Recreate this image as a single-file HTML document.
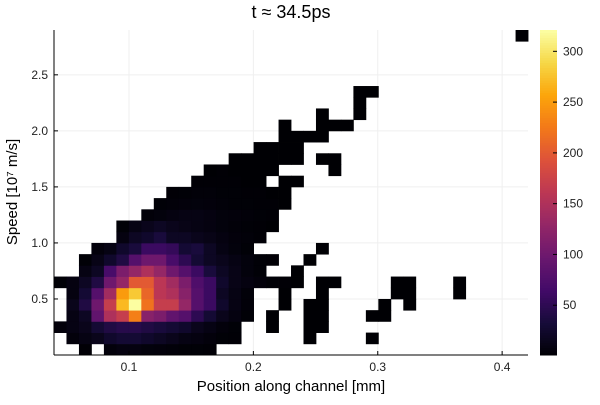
<!DOCTYPE html>
<html><head><meta charset="utf-8"><style>
body{margin:0;background:#fff;font-family:"Liberation Sans",sans-serif}
svg text{font-family:"Liberation Sans","DejaVu Sans",sans-serif}
</style></head><body>
<svg id="chart" width="600" height="400" viewBox="0 0 600 400" xmlns="http://www.w3.org/2000/svg">
<rect width="600" height="400" fill="#fff"/>
<text x="291" y="18" text-anchor="middle" font-size="18" fill="#000">t ≈ 34.5ps</text>
<text x="291" y="391" text-anchor="middle" font-size="15" fill="#000">Position along channel [mm]</text>
<text transform="translate(17,192) rotate(-90)" text-anchor="middle" font-size="15" fill="#000">Speed [10⁷ m/s]</text>
<g id="grid"></g><g id="cells"></g><g id="axes"></g><g id="cbar"></g>
</svg>
<script>
const xTicks=[0.1,0.2,0.3,0.4];
const yTicks=[0.5,1.0,1.5,2.0,2.5];
const cbTicks=[50,100,150,200,250,300];
const xBinStart=0.0397, xBinW=0.01003, nCols=38;
const yBinStart=0.0, yBinH=0.1, nRows=29;
const rowStart=[2,1,0,1,1,1,0,2,2,3,5,5,7,8,9,11,12,14,16,18,18,21,24,24,0,0,0,0,37];
const rowValues=[
[2,0,5,8,8,6,5,4,3,3,2],
[5,10,15,25,30,30,25,20,15,10,8,5,3,2,0,0,0,0,0,1,0,0,0,0,1],
[5,10,15,30,40,45,45,40,35,30,25,15,10,5,3,0,0,1,0,0,1,1],
[10,20,90,150,170,230,120,110,90,80,50,30,15,8,3,0,1,0,0,1,1,0,0,0,1,1],
[15,40,100,170,270,320,220,170,170,130,80,60,25,10,4,0,0,1,0,1,1,0,0,0,0,1,0,1],
[8,30,80,140,250,280,210,160,150,120,80,60,20,10,4,0,0,1,0,0,1,0,0,0,0,0,1,1,0,0,0,1],
[3,8,20,40,100,130,200,200,160,140,110,75,60,25,12,8,5,3,2,1,0,1,1,0,0,0,0,1,1,0,0,0,1],
[10,20,70,110,130,150,130,100,80,60,35,20,12,6,3,0,0,1],
[3,12,25,40,80,100,100,70,50,30,20,15,10,6,3,2,0,0,1],
[5,10,25,35,60,60,55,30,35,20,10,6,3,0,0,0,0,0,1],
[8,20,25,35,20,20,15,12,8,5,4,2],
[3,10,15,20,15,12,10,8,6,4,3,2,1],
[4,6,8,10,10,8,6,5,4,3,2],
[3,4,5,6,5,4,3,3,2,2,1],
[2,3,4,4,3,3,2,2,1,1],
[2,2,2,2,1,1,0,1,1],
[1,2,1,1,1,1,0,0,0,0,1],
[1,1,1,1,1,1,0,1,1],
[1,1,1,1],
[1,1,1,1],
[1,0,0,1,1,1],
[1,0,0,1],
[1],
[1,1],
[],[],[],[],
[1]
];
const vMin=1, vMax=321;
const X0=54,X1=528,Y0=355,Y1=30;
const xMin=0.0397,xMax=0.4208,yMin=0,yMax=2.9;
function sx(v){return X0+(v-xMin)/(xMax-xMin)*(X1-X0);}
function sy(v){return Y0-(v-yMin)/(yMax-yMin)*(Y0-Y1);}
const stops=[[0,0,0,4],[.1,22,11,57],[.2,66,10,104],[.3,106,23,110],[.4,147,38,103],[.5,188,55,84],[.6,221,81,58],[.7,243,120,25],[.8,252,165,10],[.9,246,215,70],[1,252,255,164]];
function cmap(t){t=Math.max(0,Math.min(1,t));for(let i=1;i<stops.length;i++){if(t<=stops[i][0]){const a=stops[i-1],b=stops[i],f=(t-a[0])/(b[0]-a[0]);return `rgb(${Math.round(a[1]+f*(b[1]-a[1]))},${Math.round(a[2]+f*(b[2]-a[2]))},${Math.round(a[3]+f*(b[3]-a[3]))})`;}}return 'rgb(252,255,164)';}
const NS='http://www.w3.org/2000/svg';
function mk(tag,attrs,parent){const e=document.createElementNS(NS,tag);for(const k in attrs)e.setAttribute(k,attrs[k]);parent.appendChild(e);return e;}
const grid=document.getElementById('grid'),cells=document.getElementById('cells'),axes=document.getElementById('axes'),cbar=document.getElementById('cbar');
xTicks.forEach(v=>{const l=mk('line',{x1:sx(v),x2:sx(v),y1:Y1,y2:Y0,stroke:'#efefef','stroke-width':1},grid);

});
yTicks.forEach(v=>{const l=mk('line',{x1:X0,x2:X1,y1:sy(v),y2:sy(v),stroke:'#efefef','stroke-width':1},grid);

});
rowValues.forEach((vals,r)=>{vals.forEach((v,i)=>{if(v<=0)return;const c=rowStart[r]+i;
const xa=sx(xBinStart+c*xBinW),xb=sx(xBinStart+(c+1)*xBinW),ya=sy(yBinStart+(r+1)*yBinH),yb=sy(yBinStart+r*yBinH);
const t=(v-vMin)/(vMax-vMin);
const e=mk('rect',{x:xa.toFixed(2),y:ya.toFixed(2),width:(xb-xa+0.4).toFixed(2),height:(yb-ya+0.4).toFixed(2),fill:cmap(t)},cells);

});});
const ax=mk('line',{x1:X0,x2:X1,y1:Y0,y2:Y0,stroke:'#000','stroke-width':1},axes);


const ay=mk('line',{x1:X0,x2:X0,y1:Y1,y2:Y0,stroke:'#000','stroke-width':1},axes);


xTicks.forEach(v=>{mk('line',{x1:sx(v),x2:sx(v),y1:Y0,y2:Y0-4,stroke:'#000'},axes);
const t=mk('text',{x:sx(v),y:Y0+16,'text-anchor':'middle','font-size':12,fill:'#222'},axes);t.textContent=v.toFixed(1);

});
yTicks.forEach(v=>{mk('line',{x1:X0,x2:X0+4,y1:sy(v),y2:sy(v),stroke:'#000'},axes);
const t=mk('text',{x:X0-6,y:sy(v)+4,'text-anchor':'end','font-size':12,fill:'#222'},axes);t.textContent=v.toFixed(1);

});
const CB0=540,CBW=17;
function cy(v){return Y0-(v-vMin)/(vMax-vMin)*(Y0-Y1);}
for(let i=0;i<130;i++){const t0=i/130,t1=(i+1)/130;
const e=mk('rect',{x:CB0,y:(Y0-t1*(Y0-Y1)).toFixed(2),width:CBW,height:((Y0-Y1)/130+0.5).toFixed(2),fill:cmap((t0+t1)/2)},cbar);

}
cbTicks.forEach(v=>{mk('line',{x1:CB0+CBW-4,x2:CB0+CBW,y1:cy(v),y2:cy(v),stroke:'#000'},cbar);
const t=mk('text',{x:CB0+CBW+6,y:cy(v)+4,'font-size':12,fill:'#222'},cbar);t.textContent=v;

});
</script>
</body></html>
